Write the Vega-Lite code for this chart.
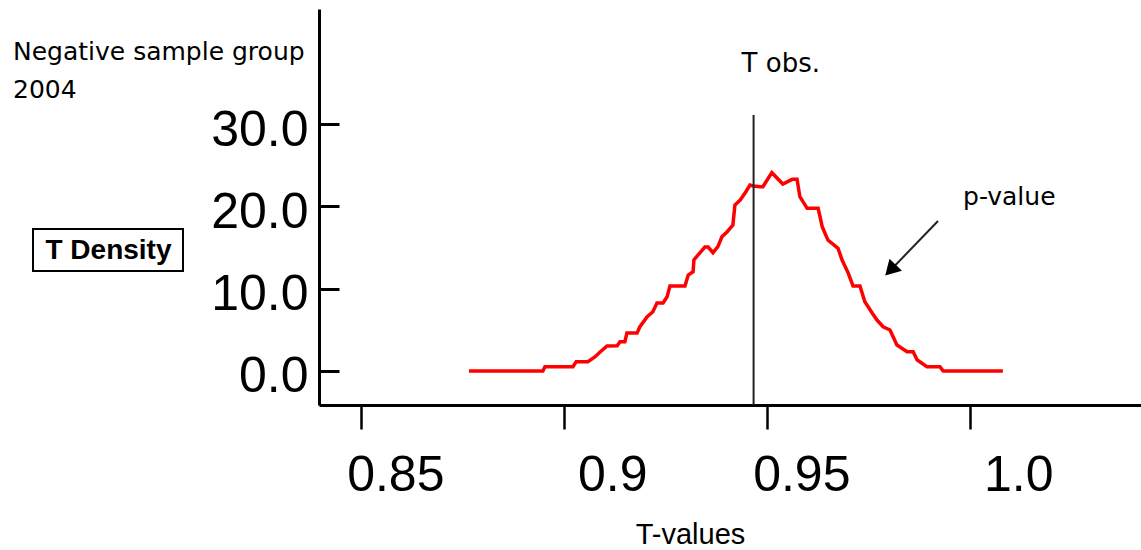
{
  "$schema": "https://vega.github.io/schema/vega-lite/v6.json",
  "width": 822,
  "height": 396,
  "autosize": {"type": "none"},
  "padding": {"left": 319, "top": 9, "right": 0, "bottom": 145},
  "background": "white",
  "config": {"view": {"stroke": null}},
  "title": {
    "text": ["Negative sample group", "2004"],
    "anchor": "start",
    "frame": "group",
    "orient": "top",
    "offset": 0,
    "dx": -306,
    "dy": 114,
    "font": "DejaVu Sans",
    "fontSize": 25,
    "fontWeight": "normal",
    "color": "black",
    "lineHeight": 38,
    "baseline": "alphabetic"
  },
  "data": {"values": [
    {"t": 0.8766, "d": 0},
    {"t": 0.8948, "d": 0},
    {"t": 0.8953, "d": 0.52},
    {"t": 0.9022, "d": 0.52},
    {"t": 0.9030, "d": 1.13},
    {"t": 0.9059, "d": 1.13},
    {"t": 0.9076, "d": 1.70},
    {"t": 0.9089, "d": 2.31},
    {"t": 0.9106, "d": 3.04},
    {"t": 0.9131, "d": 3.07},
    {"t": 0.9138, "d": 3.56},
    {"t": 0.9150, "d": 3.56},
    {"t": 0.9155, "d": 4.62},
    {"t": 0.9180, "d": 4.62},
    {"t": 0.9187, "d": 5.38},
    {"t": 0.9205, "d": 6.60},
    {"t": 0.9219, "d": 7.20},
    {"t": 0.9229, "d": 8.26},
    {"t": 0.9244, "d": 8.26},
    {"t": 0.9254, "d": 9.02},
    {"t": 0.9261, "d": 10.32},
    {"t": 0.9298, "d": 10.32},
    {"t": 0.9306, "d": 11.66},
    {"t": 0.9318, "d": 12.06},
    {"t": 0.9320, "d": 13.48},
    {"t": 0.9330, "d": 14.09},
    {"t": 0.9347, "d": 15.06},
    {"t": 0.9355, "d": 15.06},
    {"t": 0.9367, "d": 14.37},
    {"t": 0.9379, "d": 15.10},
    {"t": 0.9389, "d": 16.31},
    {"t": 0.9402, "d": 16.92},
    {"t": 0.9416, "d": 17.73},
    {"t": 0.9421, "d": 20.16},
    {"t": 0.9434, "d": 20.77},
    {"t": 0.9448, "d": 21.78},
    {"t": 0.9458, "d": 22.59},
    {"t": 0.9466, "d": 22.47},
    {"t": 0.9483, "d": 22.39},
    {"t": 0.9490, "d": 22.39},
    {"t": 0.9512, "d": 24.09},
    {"t": 0.9539, "d": 22.71},
    {"t": 0.9562, "d": 23.28},
    {"t": 0.9574, "d": 23.28},
    {"t": 0.9581, "d": 21.17},
    {"t": 0.9599, "d": 19.76},
    {"t": 0.9626, "d": 19.76},
    {"t": 0.9636, "d": 17.53},
    {"t": 0.9650, "d": 15.91},
    {"t": 0.9675, "d": 14.90},
    {"t": 0.9685, "d": 13.48},
    {"t": 0.9700, "d": 11.90},
    {"t": 0.9712, "d": 10.32},
    {"t": 0.9729, "d": 10.32},
    {"t": 0.9741, "d": 8.42},
    {"t": 0.9759, "d": 7.04},
    {"t": 0.9771, "d": 6.19},
    {"t": 0.9786, "d": 5.38},
    {"t": 0.9803, "d": 4.98},
    {"t": 0.9820, "d": 3.16},
    {"t": 0.9845, "d": 2.34},
    {"t": 0.9860, "d": 2.34},
    {"t": 0.9870, "d": 1.34},
    {"t": 0.9894, "d": 0.52},
    {"t": 0.9926, "d": 0.52},
    {"t": 0.9934, "d": 0},
    {"t": 1.0081, "d": 0}
  ]},
  "layer": [
    {
      "mark": {"type": "line", "color": "#ff0000", "strokeWidth": 3.5, "clip": false},
      "encoding": {
        "x": {
          "field": "t",
          "type": "quantitative",
          "scale": {"domain": [0.83966, 1.04212], "nice": false, "zero": false},
          "axis": {
            "values": [0.85, 0.9, 0.95, 1.0],
            "labelExpr": "datum.value == 1 ? '1.0' : format(datum.value, '.2~f')",
            "title": "T-values",
            "titleFont": "Liberation Sans",
            "titleFontSize": 29,
            "titleFontWeight": "normal",
            "titleColor": "black",
            "titleX": 371,
            "titleY": 138,
            "titleAlign": "center",
            "titleBaseline": "alphabetic",
            "titleAngle": 0,
            "labelFont": "Liberation Sans",
            "labelFontSize": 50,
            "labelColor": "black",
            "labelAlign": "right",
            "labelOffset": 83,
            "labelBaseline": "top",
            "labelPadding": 21,
            "labelFlush": false,
            "labelOverlap": false,
            "tickSize": 24,
            "tickWidth": 2.5,
            "tickColor": "black",
            "domainColor": "black",
            "domainWidth": 3,
            "grid": false
          }
        },
        "y": {
          "field": "d",
          "type": "quantitative",
          "scale": {"domain": [-4.13, 43.97], "nice": false, "zero": false},
          "axis": {
            "values": [0, 10, 20, 30],
            "format": ".1f",
            "title": "T Density",
            "titleFont": "Liberation Sans",
            "titleFontSize": 28,
            "titleFontWeight": "bold",
            "titleColor": "black",
            "titleAngle": 0,
            "titleX": -211,
            "titleY": 241,
            "titleAlign": "center",
            "titleBaseline": "middle",
            "labelFont": "Liberation Sans",
            "labelFontSize": 50,
            "labelColor": "black",
            "labelPadding": 31,
            "labelBaseline": "middle",
            "labelOffset": 6,
            "labelFlush": false,
            "labelOverlap": false,
            "tickSize": -20,
            "tickWidth": 3,
            "tickColor": "black",
            "domainColor": "black",
            "domainWidth": 3,
            "grid": false
          }
        }
      }
    },
    {
      "data": {"values": [{"tobs": 0.9467, "top": 31.1, "bottom": -4.13, "labely": 36.3}]},
      "mark": {"type": "rule", "color": "#222222", "strokeWidth": 2, "clip": false},
      "encoding": {
        "x": {"field": "tobs", "type": "quantitative"},
        "y": {"field": "top", "type": "quantitative"},
        "y2": {"field": "bottom"}
      }
    },
    {
      "data": {"values": [{"tobs": 0.9467, "labely": 36.3, "label": "T obs."}]},
      "mark": {"type": "text", "font": "DejaVu Sans", "fontSize": 26, "align": "left", "baseline": "alphabetic", "dx": -12, "color": "black", "clip": false},
      "encoding": {
        "x": {"field": "tobs", "type": "quantitative"},
        "y": {"field": "labely", "type": "quantitative"},
        "text": {"field": "label"}
      }
    },
    {
      "data": {"values": [{"x1": 0.99212, "y1": 18.22, "x2": 0.98042, "y2": 12.24}]},
      "mark": {"type": "rule", "color": "#222222", "strokeWidth": 2, "clip": false},
      "encoding": {
        "x": {"field": "x1", "type": "quantitative"},
        "y": {"field": "y1", "type": "quantitative"},
        "x2": {"field": "x2"},
        "y2": {"field": "y2"}
      }
    },
    {
      "data": {"values": [{"hx": 0.98042, "hy": 12.24}]},
      "mark": {"type": "point", "shape": "triangle-up", "angle": 224, "size": 300, "filled": true, "color": "black", "opacity": 1, "clip": false},
      "encoding": {
        "x": {"field": "hx", "type": "quantitative"},
        "y": {"field": "hy", "type": "quantitative"}
      }
    },
    {
      "data": {"values": [{"px": 0.99828, "py": 20.16, "label": "p-value"}]},
      "mark": {"type": "text", "font": "DejaVu Sans", "fontSize": 25, "align": "left", "baseline": "alphabetic", "color": "black", "clip": false},
      "encoding": {
        "x": {"field": "px", "type": "quantitative"},
        "y": {"field": "py", "type": "quantitative"},
        "text": {"field": "label"}
      }
    },
    {
      "data": {"values": [{"bx1": 0.76922, "bx2": 0.80616, "by1": 17.25, "by2": 12.15}]},
      "mark": {"type": "rect", "fill": "transparent", "stroke": "black", "strokeWidth": 2, "clip": false},
      "encoding": {
        "x": {"field": "bx1", "type": "quantitative"},
        "x2": {"field": "bx2"},
        "y": {"field": "by1", "type": "quantitative"},
        "y2": {"field": "by2"}
      }
    }
  ]
}
